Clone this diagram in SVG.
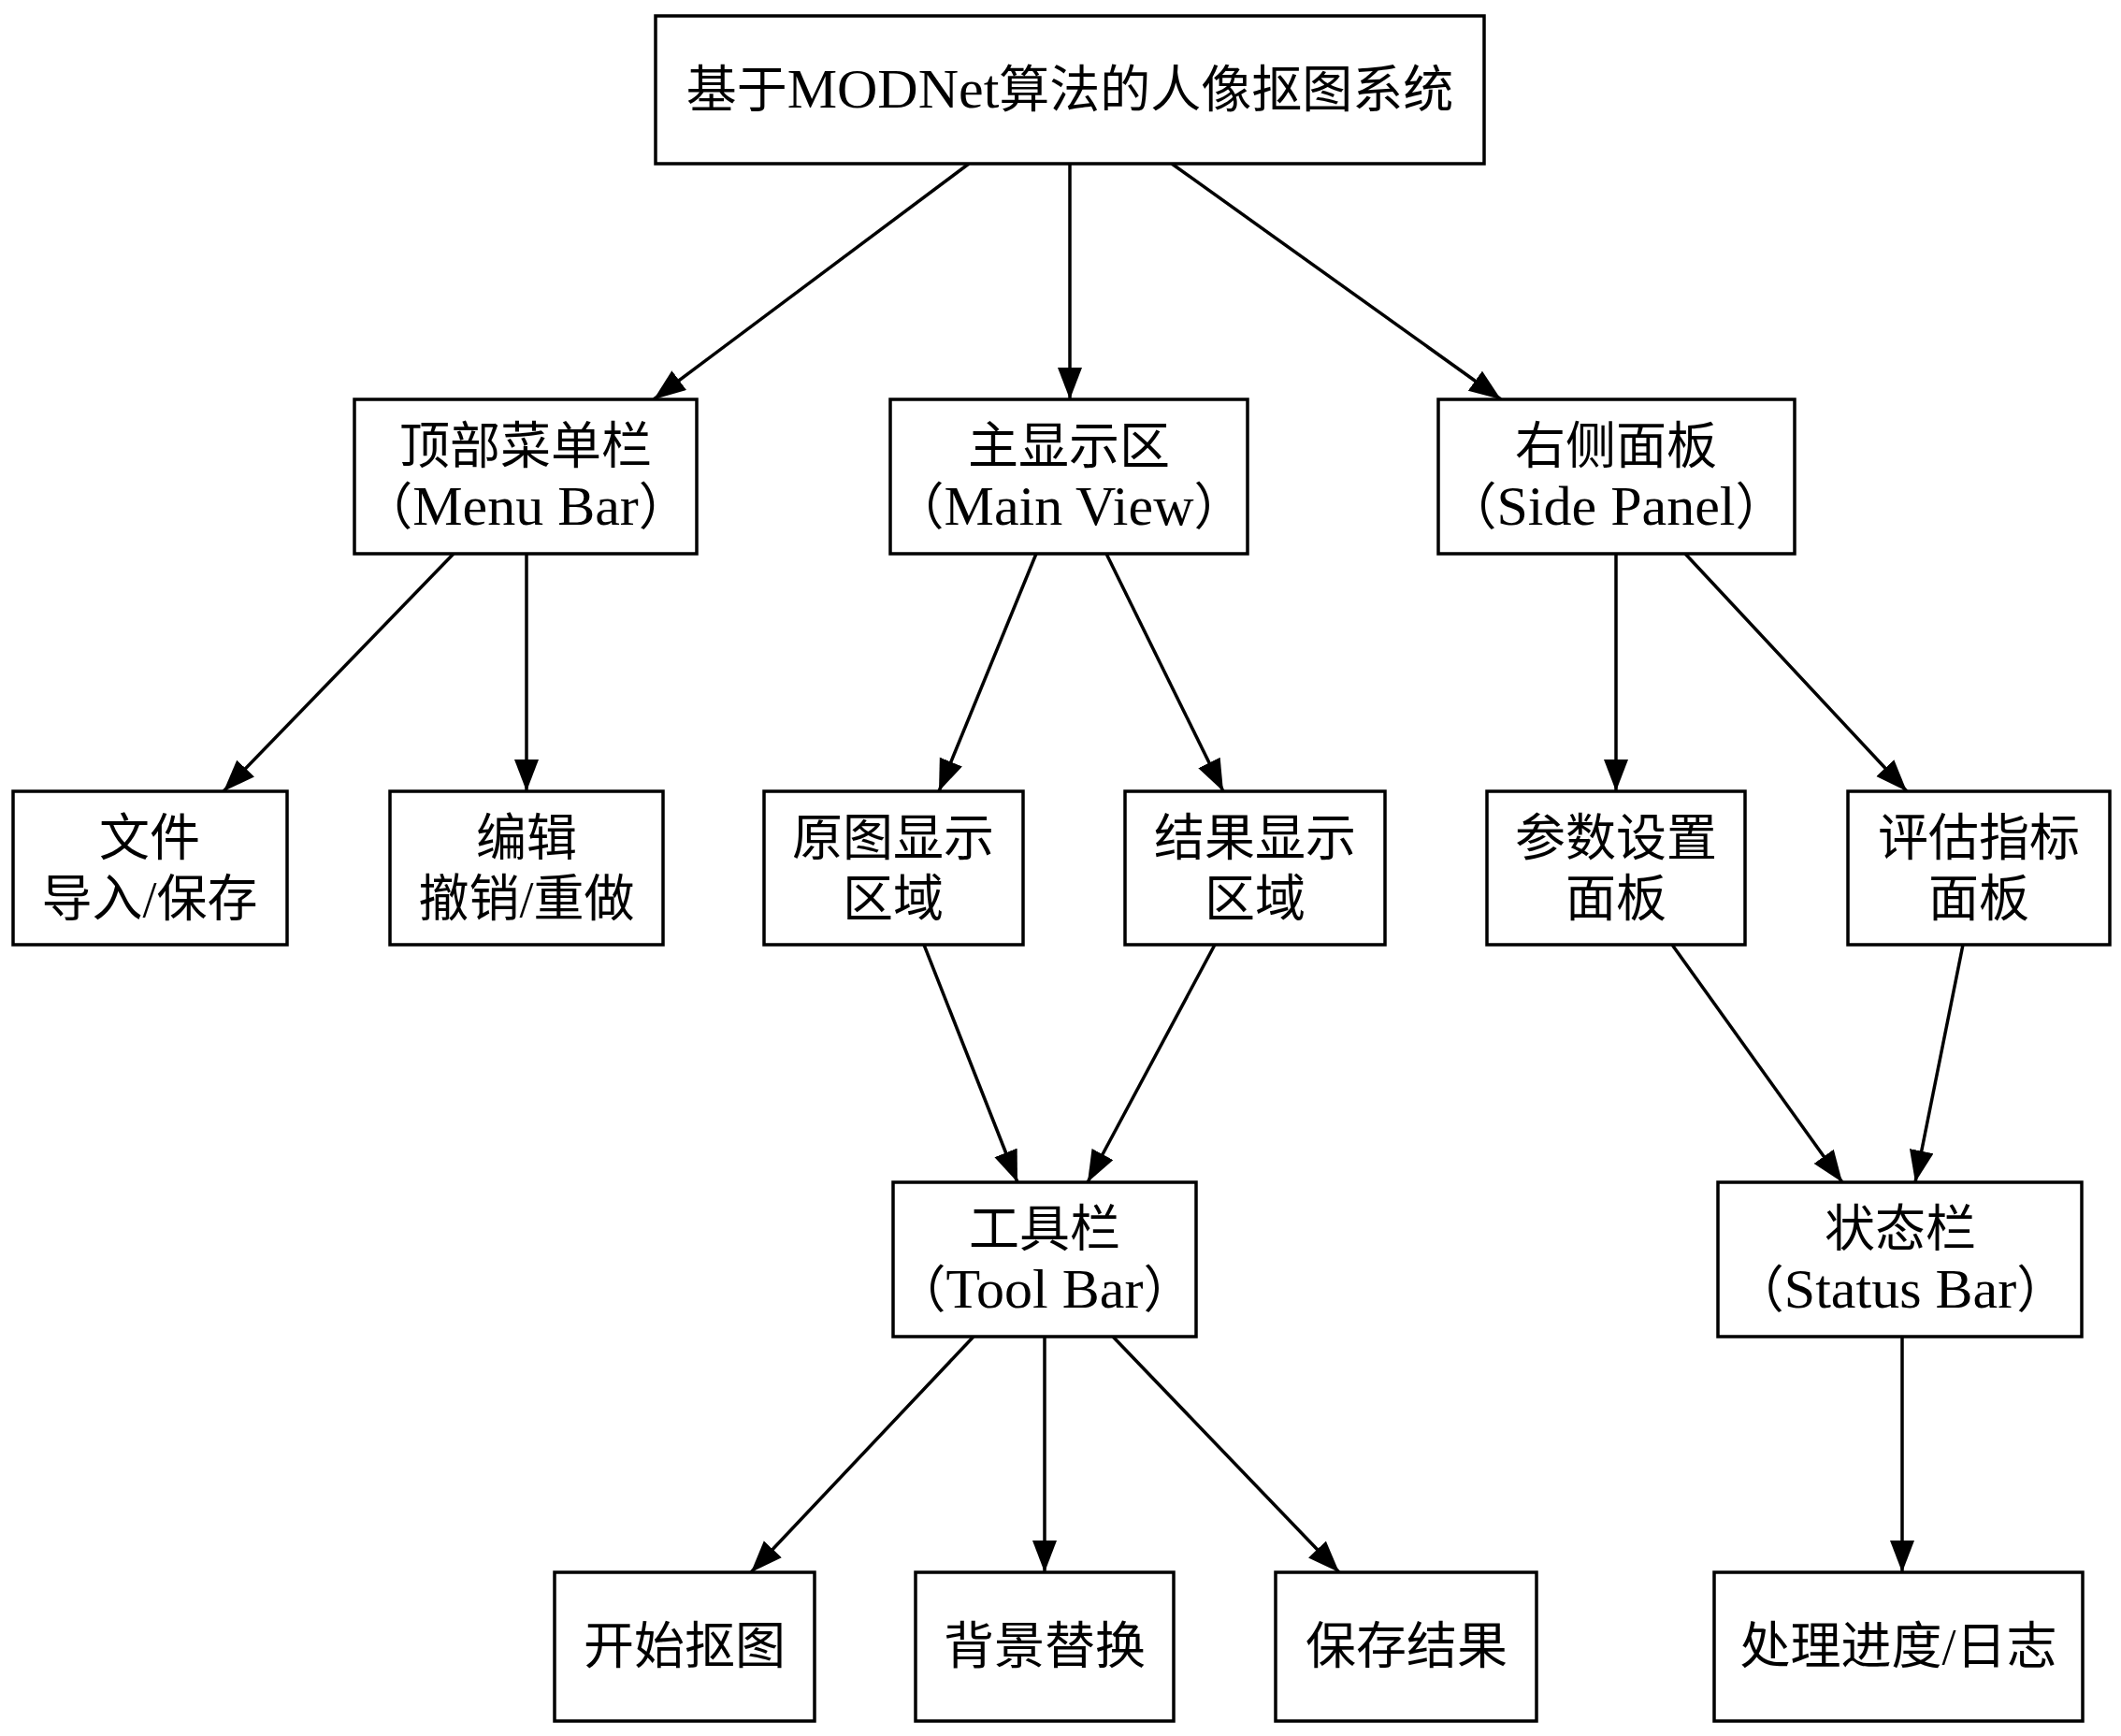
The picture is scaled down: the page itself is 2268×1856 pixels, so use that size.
<svg xmlns="http://www.w3.org/2000/svg" width="2268" height="1856" viewBox="0 0 2268 1856">
<style>
.box{fill:#fff;stroke:#000;stroke-width:3.5}
.t{font-family:"Liberation Serif","Noto Sans CJK SC",serif;font-size:54px;text-anchor:middle;fill:#000}
.l{font-size:60px}
.e{stroke:#000;stroke-width:3.5;fill:none;marker-end:url(#ah)}
</style>
<defs>
<marker id="ah" markerUnits="userSpaceOnUse" markerWidth="36" markerHeight="28" refX="34" refY="13" orient="auto">
<path d="M0,0 L34,13 L0,26 Z" fill="#000"/>
</marker>
</defs>
<rect width="2268" height="1856" fill="#fff"/>
<g id="edges">
<line class="e" x1="1036" y1="175" x2="699" y2="427"/>
<line class="e" x1="1144" y1="175" x2="1144" y2="427"/>
<line class="e" x1="1253" y1="175" x2="1605" y2="427"/>
<line class="e" x1="485" y1="592" x2="239" y2="846"/>
<line class="e" x1="563" y1="592" x2="563" y2="846"/>
<line class="e" x1="1108" y1="592" x2="1004" y2="846"/>
<line class="e" x1="1183" y1="592" x2="1308" y2="846"/>
<line class="e" x1="1728" y1="592" x2="1728" y2="846"/>
<line class="e" x1="1802" y1="592" x2="2039" y2="846"/>
<line class="e" x1="988" y1="1010" x2="1088" y2="1264"/>
<line class="e" x1="1299" y1="1010" x2="1163" y2="1264"/>
<line class="e" x1="1788" y1="1010" x2="1970" y2="1264"/>
<line class="e" x1="2099" y1="1010" x2="2048" y2="1264"/>
<line class="e" x1="1041" y1="1429" x2="803" y2="1681"/>
<line class="e" x1="1117" y1="1429" x2="1117" y2="1681"/>
<line class="e" x1="1190" y1="1429" x2="1432" y2="1681"/>
<line class="e" x1="2034" y1="1429" x2="2034" y2="1681"/>
</g>
<g id="root"><rect class="box" x="701" y="17" width="886" height="158"/><text class="t" x="1144" y="115">基于<tspan class="l">MODNet</tspan>算法的人像抠图系统</text></g>
<g id="menu"><rect class="box" x="379" y="427" width="366" height="165"/><text class="t" x="562" y="496">顶部菜单栏</text><text class="t" x="562" y="561">（<tspan class="l">Menu Bar</tspan>）</text></g>
<g id="main"><rect class="box" x="952" y="427" width="382" height="165"/><text class="t" x="1143" y="496">主显示区</text><text class="t" x="1143" y="561">（<tspan class="l">Main View</tspan>）</text></g>
<g id="side"><rect class="box" x="1538" y="427" width="381" height="165"/><text class="t" x="1728" y="496">右侧面板</text><text class="t" x="1728" y="561">（<tspan class="l">Side Panel</tspan>）</text></g>
<g id="file"><rect class="box" x="14" y="846" width="293" height="164"/><text class="t" x="160" y="915">文件</text><text class="t" x="160" y="980">导入/保存</text></g>
<g id="edit"><rect class="box" x="417" y="846" width="292" height="164"/><text class="t" x="563" y="915">编辑</text><text class="t" x="563" y="980">撤销/重做</text></g>
<g id="orig"><rect class="box" x="817" y="846" width="277" height="164"/><text class="t" x="955" y="915">原图显示</text><text class="t" x="955" y="980">区域</text></g>
<g id="result"><rect class="box" x="1203" y="846" width="278" height="164"/><text class="t" x="1342" y="915">结果显示</text><text class="t" x="1342" y="980">区域</text></g>
<g id="params"><rect class="box" x="1590" y="846" width="276" height="164"/><text class="t" x="1728" y="915">参数设置</text><text class="t" x="1728" y="980">面板</text></g>
<g id="metrics"><rect class="box" x="1976" y="846" width="280" height="164"/><text class="t" x="2116" y="915">评估指标</text><text class="t" x="2116" y="980">面板</text></g>
<g id="toolbar"><rect class="box" x="955" y="1264" width="324" height="165"/><text class="t" x="1117" y="1333">工具栏</text><text class="t" x="1117" y="1398">（<tspan class="l">Tool Bar</tspan>）</text></g>
<g id="status"><rect class="box" x="1837" y="1264" width="389" height="165"/><text class="t" x="2032" y="1333">状态栏</text><text class="t" x="2032" y="1398">（<tspan class="l">Status Bar</tspan>）</text></g>
<g id="start"><rect class="box" x="593" y="1681" width="278" height="159"/><text class="t" x="732" y="1779">开始抠图</text></g>
<g id="bg"><rect class="box" x="979" y="1681" width="276" height="159"/><text class="t" x="1117" y="1779">背景替换</text></g>
<g id="save"><rect class="box" x="1364" y="1681" width="279" height="159"/><text class="t" x="1504" y="1779">保存结果</text></g>
<g id="log"><rect class="box" x="1833" y="1681" width="394" height="159"/><text class="t" x="2030" y="1779">处理进度/日志</text></g>
</svg>
